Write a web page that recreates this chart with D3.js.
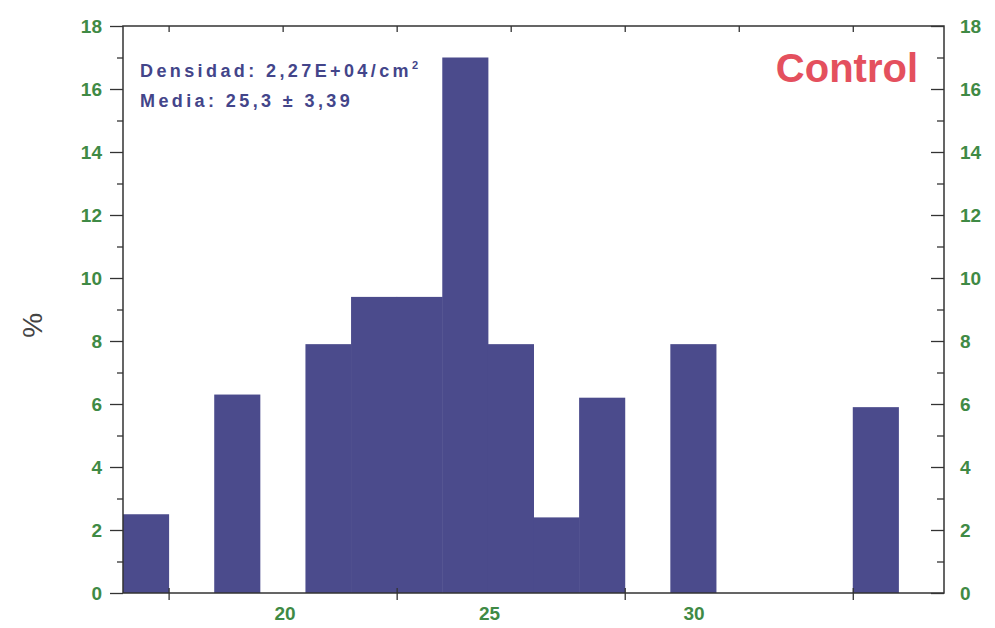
<!DOCTYPE html>
<html lang="es">
<head>
<meta charset="utf-8">
<title>Histograma Control</title>
<style>
  html, body { margin: 0; padding: 0; background: #fff; }
  .lbl { font-family: "Liberation Sans", Arial, sans-serif; font-weight: bold; font-size: 19px; fill: #3f8a45; }
</style>
</head>
<body>
<svg id="chart" width="995" height="628"></svg>
<script src="https://cdn.jsdelivr.net/npm/d3@7"></script>
<script>
// histogram bins (diameter) and percentages
const binStart = 16.04;
const binWidth = 1.115;
const percent = [2.5, 0, 6.3, 0, 7.9, 9.4, 9.4, 17.0, 7.9, 2.4, 6.2, 0, 7.9, 0, 0, 0, 5.9, 0];
const xLabels = [20, 25, 30];
const bottomTickBins = [1, 6, 11, 16];
const topTickBins = [1, 3.5, 6, 8.5, 11, 13.5, 16];
const yMajor = [0, 2, 4, 6, 8, 10, 12, 14, 16, 18];
const yMinor = [1, 3, 5, 7, 9, 11, 13, 15, 17];

const mLeft = 123, mRight = 944, mTop = 26, mBottom = 593;
const svg = d3.select("#chart");

const x = d3.scaleLinear().domain([binStart, binStart + percent.length * binWidth]).range([mLeft, mRight]);
const y = d3.scaleLinear().domain([0, 18]).range([mBottom, mTop]);

// bars
svg.append("g").selectAll("rect")
  .data(percent.map((v, i) => ({ v: v, i: i })).filter(d => d.v > 0))
  .enter().append("rect")
  .attr("x", d => x(binStart + d.i * binWidth))
  .attr("width", d => x(binStart + (d.i + 1) * binWidth) - x(binStart + d.i * binWidth) + 0.5)
  .attr("y", d => y(d.v))
  .attr("height", d => y(0) - y(d.v))
  .attr("fill", "#4b4b8c");

// frame
svg.append("rect")
  .attr("x", mLeft).attr("y", mTop)
  .attr("width", mRight - mLeft).attr("height", mBottom - mTop)
  .attr("fill", "none").attr("stroke", "#333").attr("stroke-width", 1.5);

// left axis
const yl = svg.append("g").attr("transform", "translate(" + mLeft + ",0)")
  .call(d3.axisLeft(y).tickValues(yMajor).tickSize(13).tickPadding(8).tickFormat(d3.format("d")));
yl.select(".domain").remove();
yl.selectAll("line").attr("stroke", "#333").attr("stroke-width", 1.3);
yl.selectAll("text").attr("class", "lbl");
yl.attr("font-family", null).attr("font-size", null);
svg.append("g").attr("transform", "translate(" + mLeft + ",0)")
  .call(d3.axisLeft(y).tickValues(yMinor).tickSize(6).tickFormat(""))
  .call(g => g.select(".domain").remove())
  .selectAll("line").attr("stroke", "#333").attr("stroke-width", 1.3);

// right axis
const yr = svg.append("g").attr("transform", "translate(" + mRight + ",0)")
  .call(d3.axisRight(y).tickValues(yMajor).tickSizeInner(-13).tickSizeOuter(0).tickPadding(16).tickFormat(d3.format("d")));
yr.select(".domain").remove();
yr.selectAll("line").attr("stroke", "#333").attr("stroke-width", 1.3);
yr.selectAll("text").attr("class", "lbl");
yr.attr("font-family", null).attr("font-size", null);
svg.append("g").attr("transform", "translate(" + mRight + ",0)")
  .call(d3.axisRight(y).tickValues(yMinor).tickSizeInner(-7).tickSizeOuter(0).tickFormat(""))
  .call(g => g.select(".domain").remove())
  .selectAll("line").attr("stroke", "#333").attr("stroke-width", 1.3);

// bottom axis: tick marks at bin edges, labels on the value scale
svg.append("g").attr("transform", "translate(0," + mBottom + ")")
  .call(d3.axisBottom(x).tickValues(bottomTickBins.map(k => binStart + k * binWidth)).tickSize(7).tickFormat(""))
  .call(g => g.select(".domain").remove())
  .selectAll("line").attr("stroke", "#333").attr("stroke-width", 1.3).attr("y1", -5);
svg.append("g").selectAll("text")
  .data(xLabels).enter().append("text")
  .attr("class", "lbl")
  .attr("x", d => x(d)).attr("y", 620)
  .attr("text-anchor", "middle")
  .text(d => d);

// top axis
svg.append("g").attr("transform", "translate(0," + mTop + ")")
  .call(d3.axisTop(x).tickValues(topTickBins.map(k => binStart + k * binWidth)).tickSizeInner(-6).tickSizeOuter(0).tickFormat(""))
  .call(g => g.select(".domain").remove())
  .selectAll("line").attr("stroke", "#333").attr("stroke-width", 1.3);

// y title
svg.append("text")
  .attr("transform", "translate(42," + y(8.5) + ") rotate(-90)")
  .attr("text-anchor", "middle")
  .attr("font-family", "Liberation Sans, Arial, sans-serif")
  .attr("font-size", 28).attr("fill", "#444")
  .text("%");

// annotations
const note = svg.append("g")
  .attr("font-family", "Liberation Sans, Arial, sans-serif")
  .attr("font-weight", "bold").attr("font-size", 18)
  .attr("fill", "#43458a").attr("letter-spacing", 3.4);
const t1 = note.append("text").attr("x", 140).attr("y", 77);
t1.append("tspan").text("Densidad: 2,27E+04/cm");
t1.append("tspan").attr("font-size", 11).attr("dy", -8).text("2");
note.append("text").attr("x", 140).attr("y", 107).text("Media: 25,3 \u00b1 3,39");

svg.append("text")
  .attr("x", 918).attr("y", 82)
  .attr("text-anchor", "end")
  .attr("font-family", "Liberation Sans, Arial, sans-serif")
  .attr("font-weight", "bold").attr("font-size", 40)
  .attr("fill", "#e4505e")
  .text("Control");
</script>
</body>
</html>
